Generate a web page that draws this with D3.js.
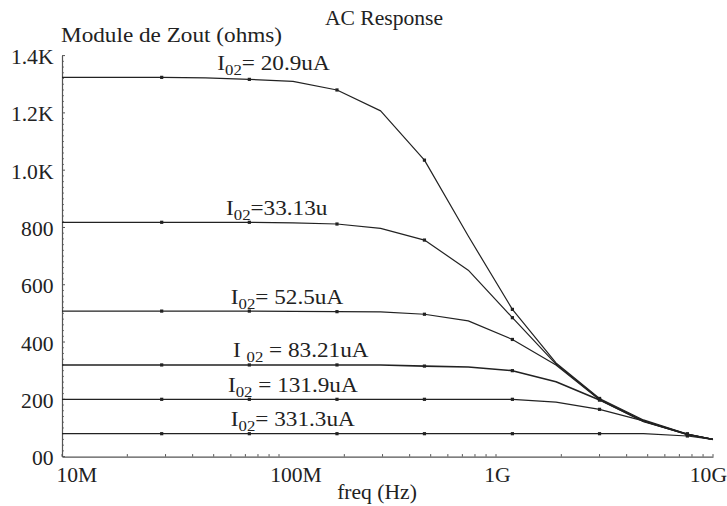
<!DOCTYPE html>
<html>
<head>
<meta charset="utf-8">
<script src="https://cdn.jsdelivr.net/npm/d3@7/dist/d3.min.js"></script>
<style>
  html, body { margin: 0; padding: 0; background: #fff; }
  svg { display: block; }
  text { font-family: "Liberation Serif", "Times New Roman", serif; fill: #222; }
</style>
</head>
<body>
<svg id="chart" width="727" height="506"></svg>
<script>
// ---------- data ----------
const freqs = [10e6, 11.4e6, 18.1e6, 28.8e6, 45.8e6, 73.0e6, 116e6, 185e6, 294e6, 468e6, 745e6, 1.19e9, 1.89e9, 3.0e9, 4.78e9, 7.62e9, 10e9];
const markerIdx = [3, 5, 7, 9, 11, 13, 15];

const seriesNames = ["20.9uA", "33.13u", "52.5uA", "83.21uA", "131.9uA", "331.3uA"];
const labelPrefix = ["= ", "=", "= ", " = ", " = ", "= "];
const labelFreqs = [52e6, 57e6, 60e6, 61.4e6, 58.2e6, 60e6];
const s20_9  = [1324, 1324, 1324, 1324, 1322, 1317, 1310, 1280, 1207, 1035, 770, 514, 327, 203, 128, 79, 60];
const s33_13 = [818, 818, 818, 818, 818, 818, 816, 812, 797, 756, 651, 485, 323, 200, 124, 77, 60];
const s52_5  = [508, 508, 508, 508, 508, 508, 507, 506, 505, 497, 474, 409, 320, 198, 122, 77, 60];
const s83_21 = [320, 320, 320, 320, 320, 320, 320, 320, 320, 316, 313, 300, 261, 198, 124, 77, 60];
const s131_9 = [200, 200, 200, 200, 200, 200, 200, 200, 200, 200, 200, 200, 190, 165, 125, 79, 60];
const s331_3 = [80, 80, 80, 80, 80, 80, 80, 80, 80, 80, 80, 80, 80, 80, 80, 72, 60];
const seriesValues = [s20_9, s33_13, s52_5, s83_21, s131_9, s331_3];

const xTickValues = [1e7, 1e8, 1e9, 1e10];
const xTickLabels = ["10M", "100M", "1G", "10G"];
const yTickValues = [0, 200, 400, 600, 800, 1000, 1200, 1400];
const yTickLabels = ["00", "200", "400", "600", "800", "1.0K", "1.2K", "1.4K"];

const titleText = "AC Response";
const yTitleText = "Module de Zout (ohms)";
const xTitleText = "freq (Hz)";

// ---------- drawing ----------
const svg = d3.select("#chart");
const ink = "#222";
const FONT = '"Liberation Serif", "Times New Roman", serif';
const SX = 1.08; // horizontal stretch of the lettering

const x = d3.scaleLog().domain([1e7, 1e10]).range([62, 713]);
const y = d3.scaleLinear().domain([0, 1400]).range([456.6, 55.6]);

function stext(g, px, py, str, size, anchor) {
  return g.append("text")
    .attr("transform", `translate(${px},${py}) scale(${SX},1)`)
    .attr("text-anchor", anchor || "start")
    .style("font-family", FONT)
    .style("font-size", size + "px")
    .text(str);
}

// X axis
const xAxis = d3.axisBottom(x).tickValues(xTickValues).tickSize(0).tickFormat("");
const gx = svg.append("g").attr("transform", `translate(0,${y(0)})`).call(xAxis);
gx.select(".domain").attr("stroke", "#555").attr("stroke-width", 1.2);
const xMinor = [];
for (let dec = 1e7; dec < 1e10; dec *= 10) for (let m = 2; m <= 9; m++) xMinor.push(dec * m);
svg.append("g").selectAll("line").data(xMinor.concat(xTickValues)).join("line")
  .attr("x1", d => x(d)).attr("x2", d => x(d))
  .attr("y1", y(0)).attr("y2", y(0) - 2.5)
  .attr("stroke", "#555").attr("stroke-width", 1);
const gxl = svg.append("g");
const xLabelShift = [-5.5, 17, 1.5, 14];
xTickValues.forEach((v, i) => {
  const px = x(v) + xLabelShift[i];
  const anchor = i === 0 ? "start" : (i === xTickValues.length - 1 ? "end" : "middle");
  stext(gxl, px, 482, xTickLabels[i], 20, anchor);
});

// Y axis
const yAxis = d3.axisLeft(y).tickValues(yTickValues).tickSize(0).tickFormat("");
const gy = svg.append("g").attr("transform", `translate(${x(1e7)},0)`).call(yAxis);
gy.select(".domain").attr("stroke", "#555").attr("stroke-width", 1.2);
const yMinor = d3.range(0, 1401, 20);
svg.append("g").selectAll("line").data(yMinor).join("line")
  .attr("x1", x(1e7)).attr("x2", d => x(1e7) + (d % 200 === 0 ? 3 : 1.8))
  .attr("y1", d => y(d)).attr("y2", d => y(d))
  .attr("stroke", "#555").attr("stroke-width", 1);
const gyl = svg.append("g");
yTickValues.forEach((v, i) => {
  stext(gyl, 53.5, y(v) + 8.5, yTickLabels[i], 20, "end");
});

// titles
stext(svg, 384, 25, titleText, 20, "middle");
stext(svg, 61, 42, yTitleText, 21.5, "start");
stext(svg, 377, 499, xTitleText, 20, "middle");

// curves
const line = d3.line().x((d, i) => x(freqs[i])).y(d => y(d));
const gc = svg.append("g");
seriesValues.forEach((vals, si) => {
  gc.append("path").datum(vals)
    .attr("d", line)
    .attr("fill", "none")
    .attr("stroke", ink)
    .attr("stroke-width", si === 3 ? 1.6 : 1.2)
    .attr("stroke-linejoin", "round");
  gc.append("g").selectAll("rect").data(markerIdx).join("rect")
    .attr("x", i => x(freqs[i]) - 1.6)
    .attr("y", i => y(vals[i]) - 1.6)
    .attr("width", 3.2).attr("height", 3.2)
    .attr("fill", ink);
});

// series labels  I_02 = value
const gl = svg.append("g");
seriesValues.forEach((vals, si) => {
  const t = gl.append("text")
    .attr("transform", `translate(${x(labelFreqs[si])},${y(vals[0]) - 7.5}) scale(${SX},1)`)
    .style("font-family", FONT)
    .style("font-size", "21.5px");
  t.append("tspan").text(si === 3 ? "I " : "I");
  t.append("tspan").attr("dy", 5).style("font-size", "15.5px").text("02");
  t.append("tspan").attr("dy", -5).text(labelPrefix[si] + seriesNames[si]);
});
</script>
</body>
</html>
